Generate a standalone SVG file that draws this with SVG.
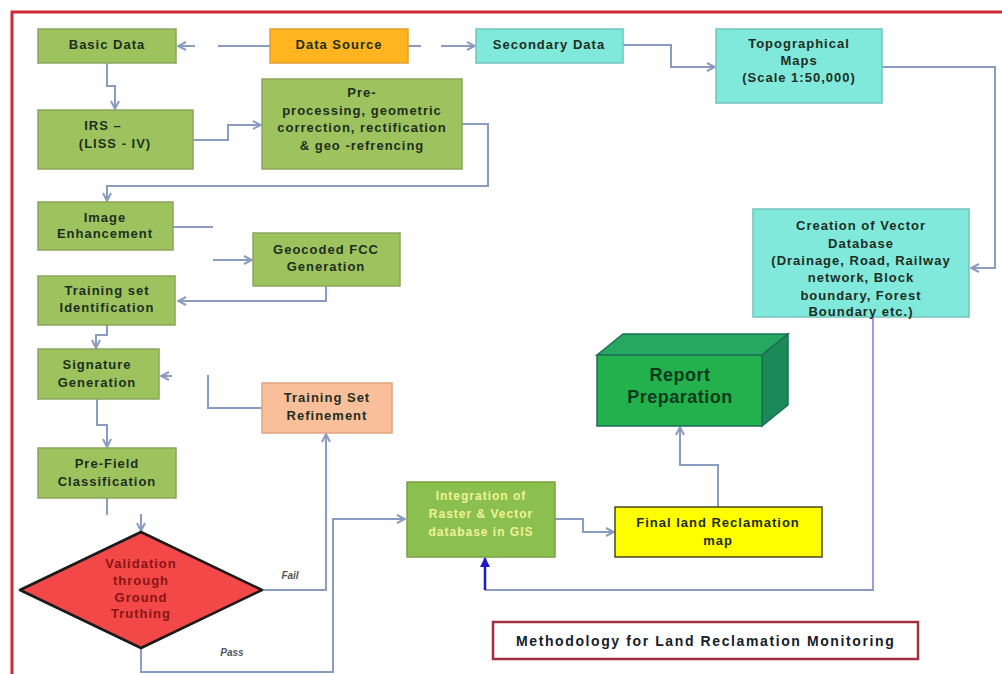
<svg xmlns="http://www.w3.org/2000/svg" width="1002" height="674" viewBox="0 0 1002 674">
<defs>
<marker id="arr" viewBox="0 0 10 10" refX="9" refY="5" markerWidth="5" markerHeight="5" orient="auto" markerUnits="strokeWidth">
<path d="M1,1 L9,5 L1,9" fill="none" stroke="#8a9cc0" stroke-width="2"/>
</marker>
<marker id="arrB" viewBox="0 0 10 10" refX="9" refY="5" markerWidth="4" markerHeight="4" orient="auto" markerUnits="strokeWidth">
<path d="M0,0 L10,5 L0,10 z" fill="#1a1acc"/>
</marker>
</defs>
<style>
.t{font-family:"Liberation Sans",Arial,sans-serif;font-weight:bold;font-size:13px;letter-spacing:1px;text-anchor:middle;fill:#1e2e1e}
.g{fill:#9dc35f;stroke:#8da45e;stroke-width:1.5}
.o{fill:#ffb420;stroke:#e0a030;stroke-width:1.5}
.c{fill:#80e9dc;stroke:#72c4bc;stroke-width:1.5}
.s{fill:#f9be9a;stroke:#e0a682;stroke-width:1.5}
.cn{fill:none;stroke:#8a9cc0;stroke-width:2}
.lab{font-family:"Liberation Sans",Arial,sans-serif;font-style:italic;font-weight:bold;font-size:10px;fill:#555}
</style>
<rect width="1002" height="674" fill="#ffffff"/>
<rect x="12" y="12" width="1000" height="700" fill="none" stroke="#d0283a" stroke-width="3"/>

<g id="connectors">
<path class="cn" d="M270,46 H178" stroke-dasharray="52 23 30" marker-end="url(#arr)"/>
<path class="cn" d="M408,46 H475" stroke-dasharray="13 20 40" marker-end="url(#arr)"/>
<path class="cn" d="M107,63 V86 H115 V109" marker-end="url(#arr)"/>
<path class="cn" d="M193,140 H228 V125 H261" marker-end="url(#arr)"/>
<path class="cn" d="M462,124 H488 V186 H107 V201" marker-end="url(#arr)"/>
<path class="cn" d="M173,227 H213 M213,260 H252" marker-end="url(#arr)"/>
<path class="cn" d="M326,286 V301 H178" marker-end="url(#arr)"/>
<path class="cn" d="M107,325 V335 H96 V348" marker-end="url(#arr)"/>
<path class="cn" d="M262,408 H208 V375 M172,376 H161" marker-end="url(#arr)"/>
<path class="cn" d="M97,399 V425 H107 V447" marker-end="url(#arr)"/>
<path class="cn" d="M107,498 V515 M141,514 V531" marker-end="url(#arr)"/>
<path class="cn" d="M262,590 H326 V434" marker-end="url(#arr)"/>
<path class="cn" d="M141,648 V672 H333 V519 H405" marker-end="url(#arr)"/>
<path class="cn" d="M555,519 H583 V532 H614" marker-end="url(#arr)"/>
<path class="cn" d="M718,507 V465 H680 V427" marker-end="url(#arr)"/>
<path class="cn" d="M623,45 H671 V67 H715" marker-end="url(#arr)"/>
<path class="cn" d="M882,67 H995 V268 H971" marker-end="url(#arr)"/>
<path fill="none" stroke="#9a9ae8" stroke-width="2" d="M873,317 V590"/>
<path class="cn" d="M874,590 H485"/>
<path fill="none" stroke="#1a1acc" stroke-width="2.5" d="M485,590 V558" marker-end="url(#arrB)"/>
<text class="lab" x="290" y="579" text-anchor="middle">Fail</text>
<text class="lab" x="232" y="656" text-anchor="middle">Pass</text>
</g>

<g id="basic-data"><rect class="g" x="38" y="29" width="138" height="34"/><text class="t" x="107" y="49">Basic Data</text></g>
<g id="data-source"><rect class="o" x="270" y="29" width="138" height="34"/><text class="t" x="339" y="49">Data Source</text></g>
<g id="secondary-data"><rect class="c" x="476" y="29" width="147" height="34"/><text class="t" x="549" y="49">Secondary Data</text></g>
<g id="topo-maps"><rect class="c" x="716" y="29" width="166" height="74"/>
<text class="t" x="799" y="48">Topographical</text><text class="t" x="799" y="65">Maps</text><text class="t" x="799" y="82">(Scale 1:50,000)</text></g>
<g id="irs"><rect class="g" x="38" y="110" width="155" height="59"/>
<text class="t" x="103" y="130">IRS –</text><text class="t" x="115" y="148">(LISS - IV)</text></g>
<g id="preprocessing"><rect class="g" x="262" y="79" width="200" height="90"/>
<text class="t" x="362" y="97">Pre-</text><text class="t" x="362" y="115">processing, geometric</text><text class="t" x="362" y="132">correction, rectification</text><text class="t" x="362" y="150">&amp; geo -refrencing</text></g>
<g id="image-enhancement"><rect class="g" x="38" y="202" width="135" height="48"/>
<text class="t" x="105" y="222">Image</text><text class="t" x="105" y="238">Enhancement</text></g>
<g id="geocoded-fcc"><rect class="g" x="253" y="233" width="147" height="53"/>
<text class="t" x="326" y="254">Geocoded FCC</text><text class="t" x="326" y="271">Generation</text></g>
<g id="training-set-id"><rect class="g" x="38" y="276" width="137" height="49"/>
<text class="t" x="107" y="295">Training set</text><text class="t" x="107" y="312">Identification</text></g>
<g id="signature"><rect class="g" x="38" y="349" width="121" height="50"/>
<text class="t" x="97" y="369">Signature</text><text class="t" x="97" y="387">Generation</text></g>
<g id="training-refinement"><rect class="s" x="262" y="383" width="130" height="50"/>
<text class="t" x="327" y="402">Training Set</text><text class="t" x="327" y="420">Refinement</text></g>
<g id="prefield"><rect class="g" x="38" y="448" width="138" height="50"/>
<text class="t" x="107" y="468">Pre-Field</text><text class="t" x="107" y="486">Classification</text></g>
<g id="validation"><polygon points="20,590 141,532 262,590 141,648" fill="#f24848" stroke="#1a1a1a" stroke-width="2.5" stroke-linejoin="round"/>
<text class="t" x="141" y="568" style="fill:#8a1414">Validation</text><text class="t" x="141" y="585" style="fill:#8a1414">through</text><text class="t" x="141" y="602" style="fill:#8a1414">Ground</text><text class="t" x="141" y="618" style="fill:#8a1414">Truthing</text></g>
<g id="integration"><rect x="407" y="482" width="148" height="75" fill="#8cc04e" stroke="#7aa044" stroke-width="1.5"/>
<text class="t" x="481" y="500" style="fill:#eef29a;font-size:12px">Integration of</text><text class="t" x="481" y="518" style="fill:#eef29a;font-size:12px">Raster &amp; Vector</text><text class="t" x="481" y="536" style="fill:#eef29a;font-size:12px">database in GIS</text></g>
<g id="final-map"><rect x="615" y="507" width="207" height="50" fill="#ffff00" stroke="#4a4a20" stroke-width="1.5"/>
<text class="t" x="718" y="527">Final land Reclamation</text><text class="t" x="718" y="545">map</text></g>
<g id="report">
<polygon points="597,355 623,334 788,334 762,355" fill="#27a860" stroke="#1d6e58" stroke-width="1.5"/>
<polygon points="762,355 788,334 788,405 762,426" fill="#1c8a58" stroke="#1d6e58" stroke-width="1.5"/>
<rect x="597" y="355" width="165" height="71" fill="#22b14c" stroke="#1d6e58" stroke-width="1.5"/>
<text class="t" x="680" y="381" style="font-size:18px;letter-spacing:0.5px;fill:#0e3a1c">Report</text><text class="t" x="680" y="403" style="font-size:18px;letter-spacing:0.5px;fill:#0e3a1c">Preparation</text></g>
<g id="vector-db"><rect class="c" x="753" y="209" width="216" height="108"/>
<text class="t" x="861" y="230">Creation of Vector</text><text class="t" x="861" y="248">Database</text><text class="t" x="861" y="265">(Drainage, Road, Railway</text><text class="t" x="861" y="282">network, Block</text><text class="t" x="861" y="300">boundary, Forest</text><text class="t" x="861" y="316">Boundary etc.)</text></g>
<g id="title"><rect x="493" y="622" width="425" height="37" fill="#ffffff" stroke="#a03040" stroke-width="2.5"/>
<text class="t" x="705" y="646" style="font-size:14px;letter-spacing:0.3px;fill:#15202a" textLength="378" lengthAdjust="spacing">Methodology for Land Reclamation Monitoring</text></g>
</svg>
